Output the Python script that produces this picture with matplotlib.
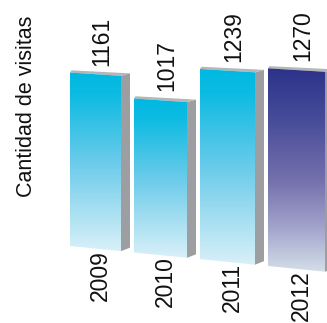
import matplotlib
matplotlib.use('Agg')
import matplotlib.pyplot as plt
import numpy as np
from matplotlib.colors import LinearSegmentedColormap
from matplotlib.patches import Polygon

plt.rcParams['font.family'] = ['Liberation Sans', 'DejaVu Sans']

years = ['2009', '2010', '2011', '2012']
visits = [1161, 1017, 1239, 1270]
highlight = [False, False, False, True]

W, H = 327, 323

# oblique view: baseline tilts down to the right, scale grows to the right
X0, PITCH, SPREAD = 70, 64, 1.0
W0, DW = 51, 2.0
BASE0, BASE_SLOPE = 246.0, 0.101
K0, K_SLOPE = 0.1494, 3.15e-5
DEPTH = (9, -3)


def base_y(x):
    return BASE0 + (x - X0) * BASE_SLOPE


def top_y(x, v):
    return base_y(x) - v * (K0 + (x - X0) * K_SLOPE)


cyan = LinearSegmentedColormap.from_list('cyan', [
    (0.0, '#00b8e1'), (0.12, '#0cbbe2'), (0.5, '#6acbea'), (1.0, '#d9f0f8')])
navy = LinearSegmentedColormap.from_list('navy', [
    (0.0, '#2c3289'), (0.25, '#474c99'), (0.55, '#7470ad'), (0.78, '#a2a3cb'), (1.0, '#d3dfe8')])

fig = plt.figure(figsize=(W / 100, H / 100), dpi=100)
ax = fig.add_axes([0, 0, 1, 1])
ax.set_xlim(0, W)
ax.set_ylim(H, 0)
ax.axis('off')

grad = np.linspace(0, 1, 256).reshape(-1, 1)

for i, (year, v, hl) in enumerate(zip(years, visits, highlight)):
    xl = X0 + i * PITCH + i * (i - 1) * SPREAD
    xr = xl + W0 + DW * i
    bl, br = base_y(xl), base_y(xr)
    tl, tr = top_y(xl, v), top_y(xr, v)
    dx, dy = DEPTH

    # side face
    ax.add_patch(Polygon([(xr, tr), (xr + dx, tr + dy + 0.5), (xr + dx, br + dy - 0.5), (xr, br)],
                         closed=True, facecolor='#9c9ea1', edgecolor='none', zorder=2))
    # top face
    ax.add_patch(Polygon([(xl, tl), (xr, tr), (xr + dx, tr + dy + 0.5), (xl + 1.5, tl - 2.2)],
                         closed=True, facecolor='#b4b6b8', edgecolor='none', zorder=2))
    # front face with vertical gradient
    front = Polygon([(xl, tl), (xr, tr), (xr, br), (xl, bl)], closed=True,
                    facecolor='none', edgecolor='none', zorder=3)
    ax.add_patch(front)
    im = ax.imshow(grad, cmap=navy if hl else cyan, aspect='auto',
                   extent=(xl, xr, max(bl, br), min(tl, tr)), zorder=3,
                   interpolation='bilinear')
    im.set_clip_path(front)

    cx = (xl + xr + dx) / 2
    ax.text(cx + 1.5, min(tl, tr) - 7, f'{v}', rotation=90, ha='center', va='bottom',
            fontsize=16.5, color='#111111')
    ax.text(cx, base_y(cx) + 1, year, rotation=90, ha='center', va='top',
            fontsize=16.5, color='#111111')

ax.text(27, 106, 'Cantidad de visitas', rotation=90, ha='center', va='center',
        fontsize=15.5, color='#111111')

fig.savefig('out.png', dpi=100)
